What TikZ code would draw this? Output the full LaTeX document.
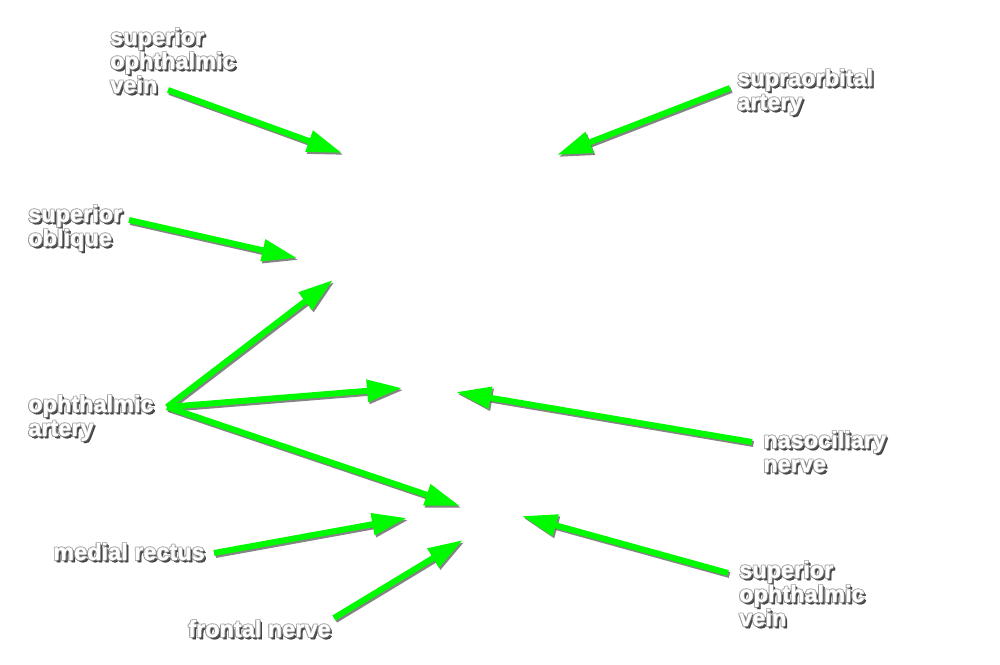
\documentclass[tikz,border=0pt]{standalone}
\usepackage{fontspec}
\setmainfont{Liberation Sans}[BoldFeatures={FakeBold=0.8}]
\usetikzlibrary{arrows.meta}
\definecolor{agreen}{RGB}{0,250,0}
\newcommand\shtxt[1]{\leavevmode
  \rlap{\kern2.2pt\raisebox{-2.2pt}{\textcolor{black!75}{#1}}}%
  \rlap{\kern1.2pt\raisebox{-1.2pt}{\textcolor{black!65}{#1}}}%
  \rlap{\kern-0.7pt\raisebox{0.7pt}{\textcolor{black!35}{#1}}}%
  \rlap{\kern0.7pt\raisebox{0.7pt}{\textcolor{black!35}{#1}}}%
  \rlap{\kern-0.7pt\raisebox{-0.7pt}{\textcolor{black!45}{#1}}}%
  \textcolor{white}{#1}}
\newcommand\arrw[2]{%
  \draw[sarr] ([shift={(1.5,2)}]#1) -- ([shift={(1.5,2)}]#2);
  \draw[garr] (#1) -- (#2);}
\tikzset{
  garr/.style={draw=agreen, line width=6pt, -{Triangle[length=35pt,width=21pt]}},
  sarr/.style={draw=black!60, line width=6pt, -{Triangle[length=35pt,width=21pt]}, opacity=0.8},
  lbl/.style={anchor=base west, inner sep=0pt, align=left,
    font=\bfseries\fontsize{23.5}{24}\selectfont},
}
\begin{document}
\lineskiplimit=-100pt
\begin{tikzpicture}[x=1pt,y=-1pt]
\fill[white] (0,0) rectangle (1000,664);
\useasboundingbox (0,0) rectangle (1000,664);
% coordinates
\coordinate (sovAs) at (168,90);  \coordinate (sovAt) at (342,153);
\coordinate (supS) at (730,88);   \coordinate (supT) at (557,155);
\coordinate (soS) at (129,220);   \coordinate (soT) at (297,258);
\coordinate (oaO) at (167,407);
\coordinate (oaT1) at (333,280);  \coordinate (oaT2) at (402,388); \coordinate (oaT3) at (460,506);
\coordinate (ncS) at (752,442);   \coordinate (ncT) at (456,392);
\coordinate (mrS) at (214,553);   \coordinate (mrT) at (407,518);
\coordinate (fnS) at (334,618);   \coordinate (fnT) at (463,540);
\coordinate (sovBs) at (728,573); \coordinate (sovBt) at (522,516);
% arrows
\arrw{sovAs}{sovAt}
\arrw{supS}{supT}
\arrw{soS}{soT}
\arrw{oaO}{oaT1}
\arrw{oaO}{oaT2}
\arrw{oaO}{oaT3}
\arrw{ncS}{ncT}
\arrw{mrS}{mrT}
\arrw{fnS}{fnT}
\arrw{sovBs}{sovBt}
% labels (anchor = baseline of last line)
\node[lbl] (sovA) at (110,93) {\shtxt{superior}\\\shtxt{ophthalmic}\\\shtxt{vein}};
\node[lbl] (sup) at (737,110) {\shtxt{supraorbital}\\\shtxt{artery}};
\node[lbl] (so) at (28,246) {\shtxt{superior}\\\shtxt{oblique}};
\node[lbl] (oa) at (28,436) {\shtxt{ophthalmic}\\\shtxt{artery}};
\node[lbl] (nc) at (763,472) {\shtxt{nasociliary}\\\shtxt{nerve}};
\node[lbl] (mr) at (53,560) {\shtxt{medial rectus}};
\node[lbl] (fn) at (188,637) {\shtxt{frontal nerve}};
\node[lbl] (sovB) at (739,626) {\shtxt{superior}\\\shtxt{ophthalmic}\\\shtxt{vein}};
\end{tikzpicture}
\end{document}
